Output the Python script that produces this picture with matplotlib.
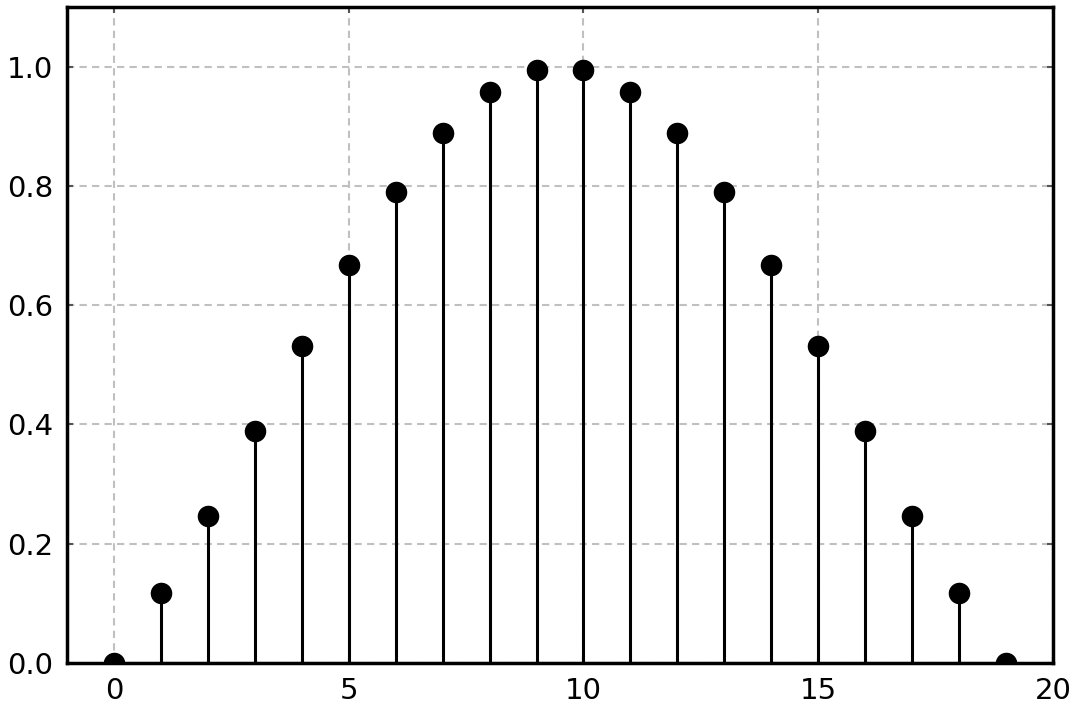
import matplotlib
matplotlib.use('Agg')
import matplotlib.pyplot as plt

n = list(range(20))
w = [0.0, 0.117, 0.247, 0.389, 0.532, 0.667, 0.789, 0.888, 0.957, 0.995,
     0.995, 0.957, 0.888, 0.789, 0.667, 0.532, 0.389, 0.247, 0.117, 0.0]

fig = plt.figure(figsize=(10.74, 7.03), dpi=100, facecolor='w')
ax = fig.add_axes([0.0624, 0.057, 0.918, 0.933])

markers, stems, base = ax.stem(n, w, linefmt='k-', markerfmt='ko', basefmt='k-')
plt.setp(markers, markersize=14.5)
plt.setp(stems, linewidth=2.2)
plt.setp(base, linewidth=2.2)

ax.set_xlim(-1, 20)
ax.set_ylim(0, 1.1)
ax.set_xticks([0, 5, 10, 15, 20])
ax.set_yticks([0.0, 0.2, 0.4, 0.6, 0.8, 1.0])
ax.grid(True, color='#c0c0c0', linestyle=(0, (3.5, 2.5)), linewidth=1.5)
ax.set_axisbelow(True)
for s in ax.spines.values():
    s.set_linewidth(2.5)
ax.tick_params(direction='in', length=4, width=1.5, color='#555555',
               labelsize=21, pad=10, top=True, right=True)

fig.savefig('out.png', dpi=100)
